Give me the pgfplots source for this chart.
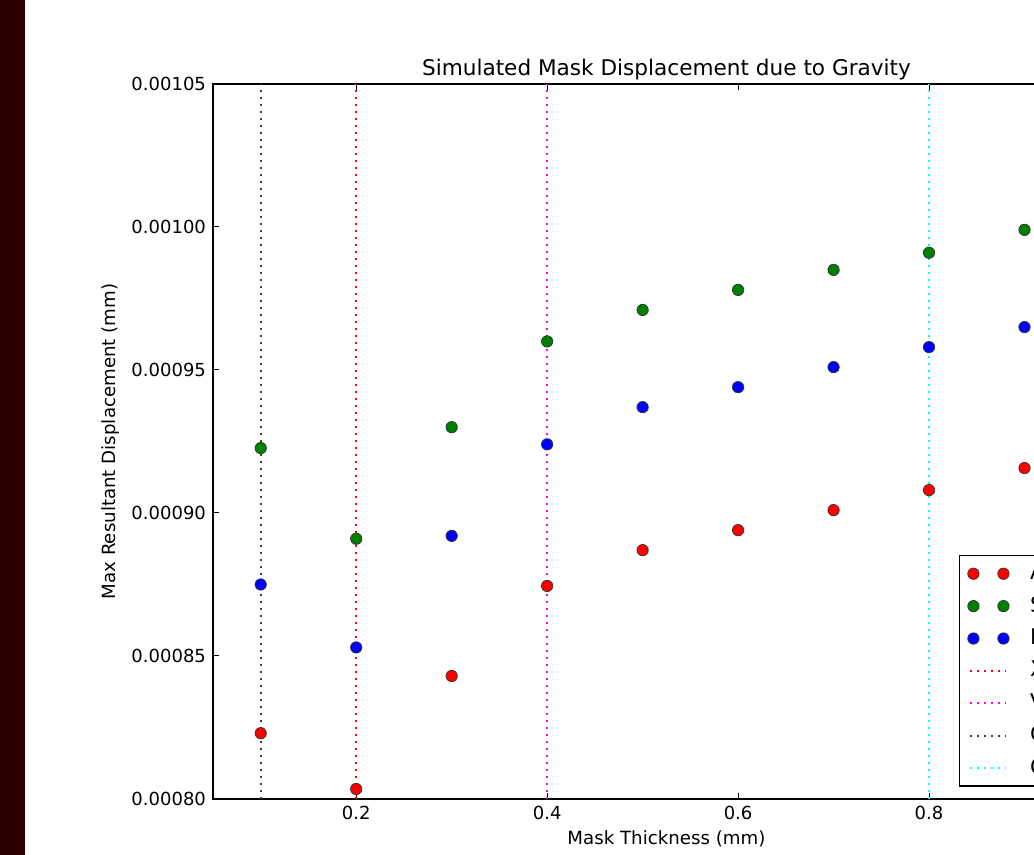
\documentclass[border=0pt]{standalone}
\usepackage{fontspec}
\setmainfont{DejaVu Sans}
\usepackage{pgfplots}
\pgfplotsset{compat=1.18}
\definecolor{strip}{RGB}{42,0,0}
\definecolor{mgreen}{RGB}{0,128,0}
\definecolor{mmag}{RGB}{255,0,255}
\definecolor{mcyan}{RGB}{0,255,255}
\definecolor{mred}{RGB}{255,0,0}
\definecolor{mblue}{RGB}{0,0,255}
\pgfplotsset{
  markleg/.style={legend image code/.code={\draw[##1] plot[only marks] coordinates {(0pt,0pt) (15pt,0pt)};}},
  lineleg/.style={legend image code/.code={\draw[##1] (-1.5pt,0pt) -- (16.5pt,0pt);}},
  vdot/.style={line width=1pt, dash pattern=on 0.9pt off 2.6pt},
  pt/.style={only marks, mark=*, mark size=2.85pt, mark options={draw=black!80, line width=0.35pt, fill=#1}, markleg},
}
\begin{document}
\begin{tikzpicture}[x=0.5pt,y=0.5pt]
\path[use as bounding box] (0,0) rectangle (1034,855);
\fill[white] (0,0) rectangle (1034,855);
\fill[strip] (0,0) rectangle (25,855);
\clip (0,0) rectangle (1034,855);
\begin{axis}[
  at={(106.5pt,28pt)}, anchor=south west,
  scale only axis, width=453.5pt, height=357.5pt,
  xmin=0.05, xmax=1.0, ymin=0.0008, ymax=0.00105,
  xtick={0.2,0.4,0.6,0.8,1.0},
  ytick={0.0008,0.00085,0.0009,0.00095,0.001,0.00105},
  scaled y ticks=false, scaled x ticks=false,
  yticklabel style={/pgf/number format/fixed,/pgf/number format/precision=5,/pgf/number format/fixed zerofill},
  xticklabel style={/pgf/number format/fixed,/pgf/number format/precision=1,/pgf/number format/fixed zerofill},
  /pgf/number format/assume math mode=true,
  tick label style={font=\fontsize{9}{10}\selectfont},
  title={Simulated Mask Displacement due to Gravity},
  xlabel={Mask Thickness (mm)},
  ylabel={Max Resultant Displacement (mm)},
  every axis title/.style={at={(axis description cs:0.5,1)}, anchor=base, yshift=4.3pt, font=\fontsize{10.8}{13}\selectfont},
  every axis x label/.style={at={(axis description cs:0.5,-0.0643)}, anchor=base, font=\fontsize{9.1}{11}\selectfont},
  every axis y label/.style={at={(axis description cs:-0.1125,0.5)}, rotate=90, anchor=center, font=\fontsize{9.1}{11}\selectfont},
  tick align=inside, major tick length=3pt, tick style={black, line width=0.5pt},
  axis line style={line width=0.75pt},
  legend cell align=left,
  legend style={at={(axis description cs:0.8225,0.3413)}, anchor=north west, draw=black, line width=0.75pt,
    font=\fontsize{10.8}{13}\selectfont, inner xsep=4pt, inner ysep=4pt, row sep=6.2pt,
    nodes={inner sep=0pt, text height=8pt, text depth=2pt},
    /tikz/every odd column/.append style={column sep=10.5pt}},
]
\addplot[mred, vdot, forget plot] coordinates {(0.2,0.0008) (0.2,0.00105)};
\addplot[mmag, vdot, forget plot] coordinates {(0.4,0.0008) (0.4,0.00105)};
\addplot[black!75, vdot, forget plot] coordinates {(0.1,0.0008) (0.1,0.00105)};
\addplot[mcyan, vdot, forget plot] coordinates {(0.8,0.0008) (0.8,0.00105)};
\addplot[pt=mred] coordinates {
(0.1,0.000823) (0.2,0.0008035) (0.3,0.000843) (0.4,0.0008745) (0.5,0.000887)
(0.6,0.000894) (0.7,0.000901) (0.8,0.000908) (0.9,0.0009157)};
\addlegendentry{Aluminium}
\addplot[pt=mgreen] coordinates {
(0.1,0.0009227) (0.2,0.000891) (0.3,0.00093) (0.4,0.00096) (0.5,0.000971)
(0.6,0.000978) (0.7,0.000985) (0.8,0.000991) (0.9,0.000999)};
\addlegendentry{Steel}
\addplot[pt=mblue] coordinates {
(0.1,0.000875) (0.2,0.000853) (0.3,0.000892) (0.4,0.000924) (0.5,0.000937)
(0.6,0.000944) (0.7,0.000951) (0.8,0.000958) (0.9,0.000965)};
\addlegendentry{Electroformed}
\addlegendimage{mred, vdot, lineleg}
\addlegendentry{X limit}
\addlegendimage{mmag, vdot, lineleg}
\addlegendentry{V limit}
\addlegendimage{black!75, vdot, lineleg}
\addlegendentry{G limit}
\addlegendimage{mcyan, vdot, lineleg}
\addlegendentry{C limit}
\end{axis}
\end{tikzpicture}
\end{document}
